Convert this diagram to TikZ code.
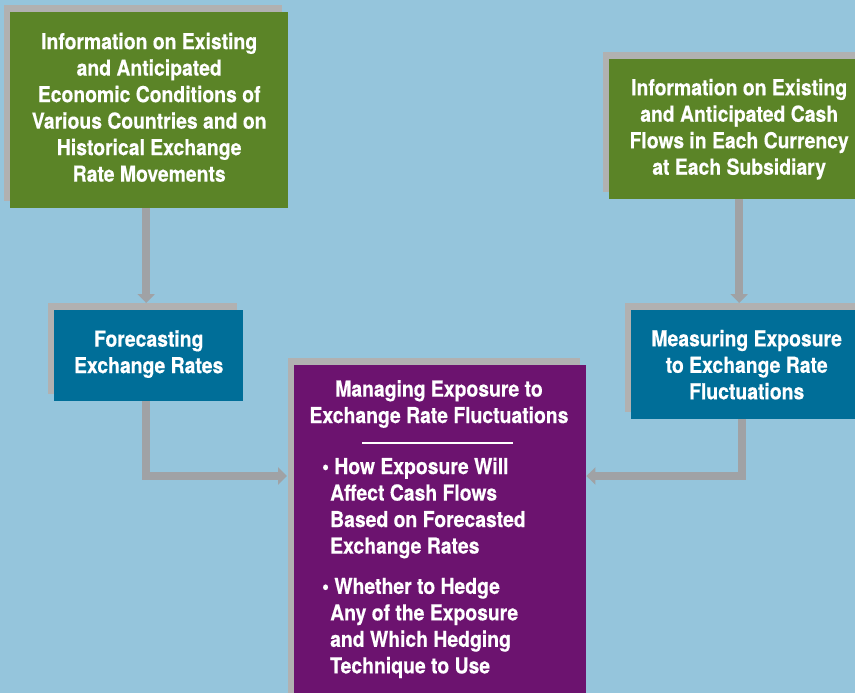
\documentclass[tikz,border=0pt]{standalone}
\usepackage{xcolor}
\usepackage{fontspec}
\newfontfamily\cardfamily[FakeStretch=0.88,FakeBold=0.4]{TeX Gyre Heros}
\usepackage{tikz}
\usetikzlibrary{arrows.meta,calc,shadows}
\definecolor{sky}{RGB}{149,197,220}
\definecolor{leaf}{RGB}{91,132,39}
\definecolor{ocean}{RGB}{0,110,152}
\definecolor{plum}{RGB}{108,19,111}
\definecolor{slab}{RGB}{177,177,177}
\definecolor{pipe}{RGB}{160,162,165}
\tikzset{
  cardtext/.style={inner sep=0pt,text=white,
    font=\cardfamily\bfseries\fontsize{22}{26.5}\selectfont},
  card/.style={cardtext,anchor=north west,align=center,
    general shadow={fill=slab,shadow xshift=-6pt,shadow yshift=7pt}},
  infobox/.style={card,fill=leaf},
  stepbox/.style={card,fill=ocean},
  mainbox/.style={card,fill=plum},
  flow/.style={pipe,line width=8pt,-{Triangle[length=9pt,width=17pt]}}
}

\begin{document}
\begin{tikzpicture}[x=1pt,y=-1pt]
  \useasboundingbox (0,0) rectangle (855,693);
  \fill[sky] (0,0) rectangle (855,693);

  % inputs
  \node[infobox,minimum width=278pt,minimum height=196pt] (econ) at (10,12)
    {Information on Existing\\and Anticipated\\Economic Conditions of\\Various Countries and on\\Historical Exchange\\Rate Movements\rule[-6pt]{0pt}{0pt}};
  \node[infobox,minimum width=260pt,minimum height=140pt] (cash) at (609,59)
    {Information on Existing\\and Anticipated Cash\\Flows in Each Currency\\at Each Subsidiary};

  % analysis
  \node[stepbox,minimum width=189pt,minimum height=91pt] (fcast) at (54,310)
    {Forecasting\\Exchange Rates\rule[-8pt]{0pt}{0pt}};
  \node[stepbox,minimum width=231pt,minimum height=109pt] (measure) at (631,310)
    {Measuring Exposure\\to Exchange Rate\\Fluctuations};

  % decision
  \node[mainbox,minimum width=292pt,minimum height=340pt] (manage) at (294,365) {};
  \node[cardtext,align=center] (mtitle) at (439,404)
    {Managing Exposure to\\Exchange Rate Fluctuations};
  \draw[white,line width=2pt] (362,443) -- (513,443);
  \node[cardtext,align=left,anchor=west] (howto) at (322,508)
    {\textbullet\ How Exposure Will\\\hspace*{8pt}Affect Cash Flows\\\hspace*{8pt}Based on Forecasted\\\hspace*{8pt}Exchange Rates};
  \node[cardtext,align=left,anchor=west] (whether) at (322,628)
    {\textbullet\ Whether to Hedge\\\hspace*{8pt}Any of the Exposure\\\hspace*{8pt}and Which Hedging\\\hspace*{8pt}Technique to Use};

  \draw[flow] ([xshift=-3pt]econ.south) -- ($(econ.south |- fcast.north)+(-3,-7)$);
  \draw[flow] (cash.south) -- ($(cash.south |- measure.north)+(0,-7)$);
  \draw[flow] ([xshift=-2.5pt]fcast.south) |- ($(manage.north west)+(-7,111)$);
  \draw[flow] ([xshift=-4.5pt]measure.south) |- ($(manage.north east)+(0,111)$);
\end{tikzpicture}
\end{document}
